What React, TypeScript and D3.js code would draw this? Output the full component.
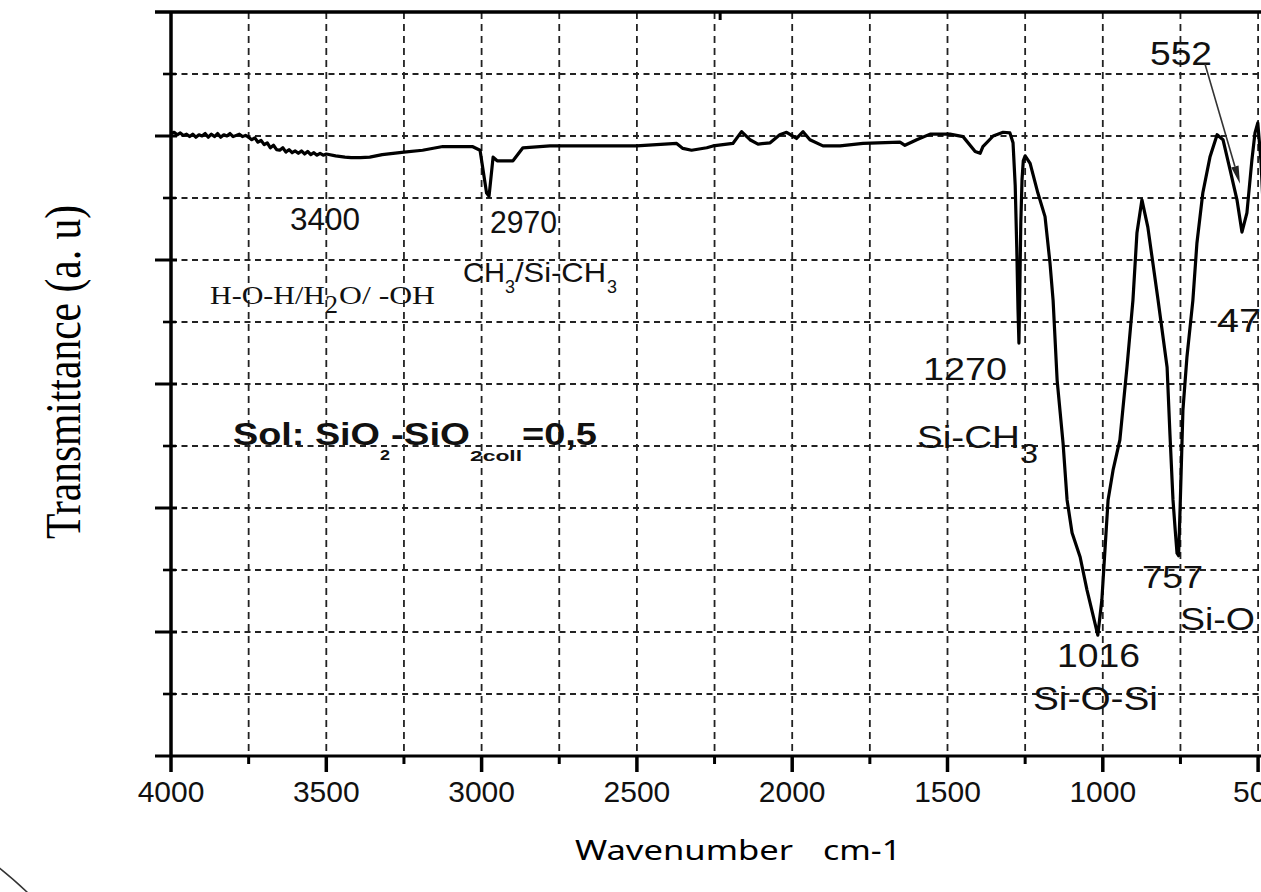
import React from "react";
import * as d3 from "d3";

// FTIR spectrum: wavenumber (cm-1) and transmittance (a.u.)
const wavenumber = [
  4000, 3990, 3980, 3970, 3960, 3950, 3940, 3930, 3920, 3910, 3900, 3890, 3880, 3870, 3860, 3850,
  3840, 3830, 3820, 3810, 3800, 3790, 3780, 3770, 3760,
  3750, 3740, 3730, 3720, 3710, 3700, 3690, 3680, 3670, 3660, 3650, 3640, 3630, 3620, 3610, 3600,
  3590, 3580, 3570, 3560, 3550, 3540, 3530, 3520, 3510, 3500,
  3470, 3440, 3420, 3390, 3360, 3320, 3250, 3190, 3125, 3030,
  3005, 2984, 2976, 2963, 2950, 2899, 2867, 2780,
  2501, 2372, 2352, 2324, 2275, 2255, 2191, 2163, 2136, 2110, 2071, 2040, 2018, 1986, 1965, 1943,
  1901, 1846, 1772, 1653, 1637, 1599, 1556, 1492,
  1450, 1411, 1395, 1386, 1353, 1321, 1299, 1289,
  1282, 1277, 1273, 1270, 1267, 1264, 1260, 1256, 1250,
  1234, 1209, 1186, 1170, 1160, 1147, 1128, 1115, 1099, 1073, 1051, 1016,
  1003, 983, 967, 945, 922, 903, 890, 874, 855, 822,
  793, 784, 774, 767, 761, 756, 751, 742, 729, 710,
  697, 678, 655, 632, 613, 590, 568, 552, 536, 520, 510, 501, 491, 480, 474,
];
const transmittance = [
  100.4, 100.6, 100.2, 100.5, 100.1, 100.3, 99.9, 100.3, 99.8, 100.2, 100.0, 100.4, 99.8, 100.3, 99.9, 100.4,
  99.8, 100.2, 100.0, 100.4, 99.9, 100.1, 100.3, 99.9, 100.1,
  99.8, 99.4, 99.7, 99.0, 99.3, 98.6, 98.9, 98.1, 98.5, 97.8, 97.7, 98.1, 97.4, 97.8, 97.3, 97.6,
  97.2, 97.6, 97.1, 97.5, 97.0, 97.3, 96.9, 97.2, 96.9, 97.1,
  96.8, 96.6, 96.5, 96.5, 96.6, 97.0, 97.4, 97.7, 98.3, 98.3,
  97.7, 90.8, 90.3, 96.6, 96.0, 96.0, 98.1, 98.4,
  98.4, 98.8, 98.0, 97.7, 98.1, 98.4, 98.8, 100.7, 99.4, 98.7, 98.9, 100.2, 100.6, 99.6, 100.7, 99.4,
  98.4, 98.4, 98.8, 99.0, 98.5, 99.4, 100.3, 100.3,
  99.9, 97.5, 97.2, 98.3, 100.0, 100.6, 100.5, 98.9,
  92.0, 82.0, 72.0, 66.6, 76.0, 86.0, 93.0, 96.0, 96.8,
  95.6, 90.8, 87.0, 79.5, 73.5, 60.6, 50.5, 41.3, 36.0, 32.1, 26.8, 19.5,
  25.2, 41.3, 46.1, 51.0, 62.8, 73.5, 84.4, 89.7, 85.3, 73.5,
  62.7, 52.1, 41.3, 36.5, 32.7, 32.3, 40.2, 55.8, 64.4, 73.5,
  82.7, 90.8, 96.6, 100.2, 99.4, 94.5, 89.7, 84.5, 87.6, 96.1, 100.5, 102.1, 96.1, 85.0, 80.0,
];

const xTickValues = [4000, 3500, 3000, 2500, 2000, 1500, 1000, 500];
const xTickLabels = ["4000", "3500", "3000", "2500", "2000", "1500", "1000", "500"];
const xMinorValues = [3750, 3250, 2750, 2250, 1750, 1250, 750];
const xGridValues = [3750, 3500, 3250, 3000, 2750, 2500, 2250, 2000, 1750, 1500, 1250, 1000, 750, 500];
const yGridValues = [10, 20, 30, 40, 50, 60, 70, 80, 90, 100, 110];
const yMajorTicks = [20, 40, 60, 80, 100];
const yMinorTicks = [10, 30, 50, 70, 90, 110];

const SANS = "'Liberation Sans', Arial, sans-serif";
const SERIF = "'Liberation Serif', 'Times New Roman', serif";
const TITLE = "'Noto Sans', 'Open Sans', sans-serif";
const INK = "#111";

type TProps = {
  x: number; y: number; size: number; len?: number; family?: string; weight?: string | number; children: string;
};
const T = ({ x, y, size, len, family = SANS, weight = "normal", children }: TProps) => (
  <text
    x={x}
    y={y}
    fontSize={size}
    fontFamily={family}
    fontWeight={weight}
    fill={INK}
    textLength={len}
    lengthAdjust={len ? "spacingAndGlyphs" : undefined}
  >
    {children}
  </text>
);

export default function App() {
  const x = d3.scaleLinear().domain([4000, 400]).range([171, 171 + 3600 * 0.3106]);
  const y = d3.scaleLinear().domain([0, 120]).range([756, 12]);
  const pts: [number, number][] = wavenumber.map((w, i) => [w, transmittance[i]]);
  const line = d3.line<[number, number]>().x((d) => x(d[0])).y((d) => y(d[1]));

  const top = y(120);
  const bottom = y(0);
  const left = x(4000);
  const right = 1265;

  // arrow from "552" label to the band
  const ax0 = 1205, ay0 = 64;
  const ax1 = x(552) - 2, ay1 = y(92.3);
  const dx = ax1 - ax0, dy = ay1 - ay0;
  const L = Math.hypot(dx, dy);
  const ux = dx / L, uy = dy / L;
  const hb = 18, hw = 3.8;
  const bx = ax1 - ux * hb, by = ay1 - uy * hb;
  const head = `M${ax1},${ay1} L${bx - uy * hw},${by + ux * hw} L${bx + uy * hw},${by - ux * hw} Z`;

  return (
    <svg
      width={1261}
      height={892}
      style={{ position: "absolute", left: 0, top: 0, background: "#fff", overflow: "hidden" }}
    >
      <rect x={0} y={0} width={1261} height={892} fill="#fff" />
      {/* grid */}
      <g stroke="#222" strokeWidth={1.8} fill="none">
        {xGridValues.map((v) => (
          <line key={"gx" + v} x1={x(v)} x2={x(v)} y1={top} y2={bottom} strokeDasharray="7,5" />
        ))}
        {yGridValues.map((v) => (
          <line key={"gy" + v} x1={left} x2={right} y1={y(v)} y2={y(v)} strokeDasharray="6,4.5" />
        ))}
      </g>

      {/* axes frame */}
      <g stroke="#000" fill="none">
        <line x1={155} x2={right} y1={top} y2={top} strokeWidth={3.5} />
        <line x1={155} x2={right} y1={bottom} y2={bottom} strokeWidth={3.2} />
        <line x1={left} x2={left} y1={top} y2={bottom + 16} strokeWidth={3.5} />
        {xTickValues.slice(1).map((v) => (
          <line key={"xt" + v} x1={x(v)} x2={x(v)} y1={bottom} y2={bottom + 16} strokeWidth={3.5} />
        ))}
        {xMinorValues.map((v) => (
          <line key={"xm" + v} x1={x(v)} x2={x(v)} y1={bottom} y2={bottom + 8} strokeWidth={3} />
        ))}
        {yMajorTicks.map((v) => (
          <line key={"ym" + v} x1={155} x2={177} y1={y(v)} y2={y(v)} strokeWidth={3} />
        ))}
        {yMinorTicks.map((v) => (
          <line key={"yn" + v} x1={163} x2={176} y1={y(v)} y2={y(v)} strokeWidth={2.6} />
        ))}
        <line x1={x(2232)} x2={x(2232)} y1={top} y2={top + 8} strokeWidth={3} />
      </g>

      {/* spectrum */}
      <path d={line(pts) ?? ""} fill="none" stroke="#000" strokeWidth={3.2} strokeLinejoin="round" />

      {/* x tick labels */}
      {xTickValues.map((v, i) => (
        <text
          key={"xl" + v}
          x={x(v)}
          y={802}
          fontSize={30}
          fontFamily={SANS}
          textAnchor="middle"
          fill={INK}
        >
          {xTickLabels[i]}
        </text>
      ))}

      {/* axis titles */}
      <g transform="translate(80,539) rotate(-90)">
        <text x={0} y={0} fontSize={50} fontFamily={SERIF} fill="#000" textLength={334} lengthAdjust="spacingAndGlyphs">
          Transmittance (a. u)
        </text>
      </g>
      <text x={575} y={860} fontSize={28} fontFamily={TITLE} fill="#000" textLength={218} lengthAdjust="spacingAndGlyphs">
        Wavenumber
      </text>
      <text x={823} y={860} fontSize={28} fontFamily={TITLE} fill="#000" textLength={78} lengthAdjust="spacingAndGlyphs">
        cm-1
      </text>

      {/* annotations */}
      <T x={1150} y={65} size={34} len={62}>552</T>
      <line x1={ax0} y1={ay0} x2={bx} y2={by} stroke="#333" strokeWidth={1.6} />
      <path d={head} fill="#222" />

      <T x={290} y={230} size={32} len={70}>3400</T>
      <T x={490} y={233} size={32} len={67}>2970</T>

      <T x={463} y={282} size={28} len={42}>CH</T>
      <T x={505} y={293} size={18} len={10}>3</T>
      <T x={515} y={282} size={28} len={91}>/Si-CH</T>
      <T x={607} y={293} size={18} len={10}>3</T>

      <T x={210} y={304} size={26} len={115} family={SERIF}>H-O-H/H</T>
      <T x={325} y={313} size={26} len={13} family={SERIF}>2</T>
      <T x={339} y={304} size={26} len={96} family={SERIF}>O/ -OH</T>

      <T x={233} y={445} size={31} len={147} weight="bold">Sol: SiO</T>
      <T x={380} y={460} size={14} len={10} weight="bold">2</T>
      <T x={391} y={445} size={31} len={79} weight="bold">-SiO</T>
      <T x={470} y={461} size={15} len={52} weight="bold">2coll</T>
      <T x={522} y={445} size={31} len={75} weight="bold">=0,5</T>

      <T x={923} y={380} size={31} len={84}>1270</T>
      <T x={917} y={448} size={32} len={103}>Si-CH</T>
      <T x={1020} y={463} size={28} len={18}>3</T>

      <T x={1142} y={588} size={32} len={61}>757</T>
      <T x={1180} y={630} size={31} len={75}>Si-O</T>
      <T x={1057} y={667} size={33} len={83}>1016</T>
      <T x={1033} y={710} size={34} len={125}>Si-O-Si</T>
      <T x={1217} y={332} size={33} len={66}>474</T>

      {/* decorative corner curve */}
      <path d="M-2,867 Q12,878 28,893" fill="none" stroke="#333" strokeWidth={1.5} />
    </svg>
  );
}
